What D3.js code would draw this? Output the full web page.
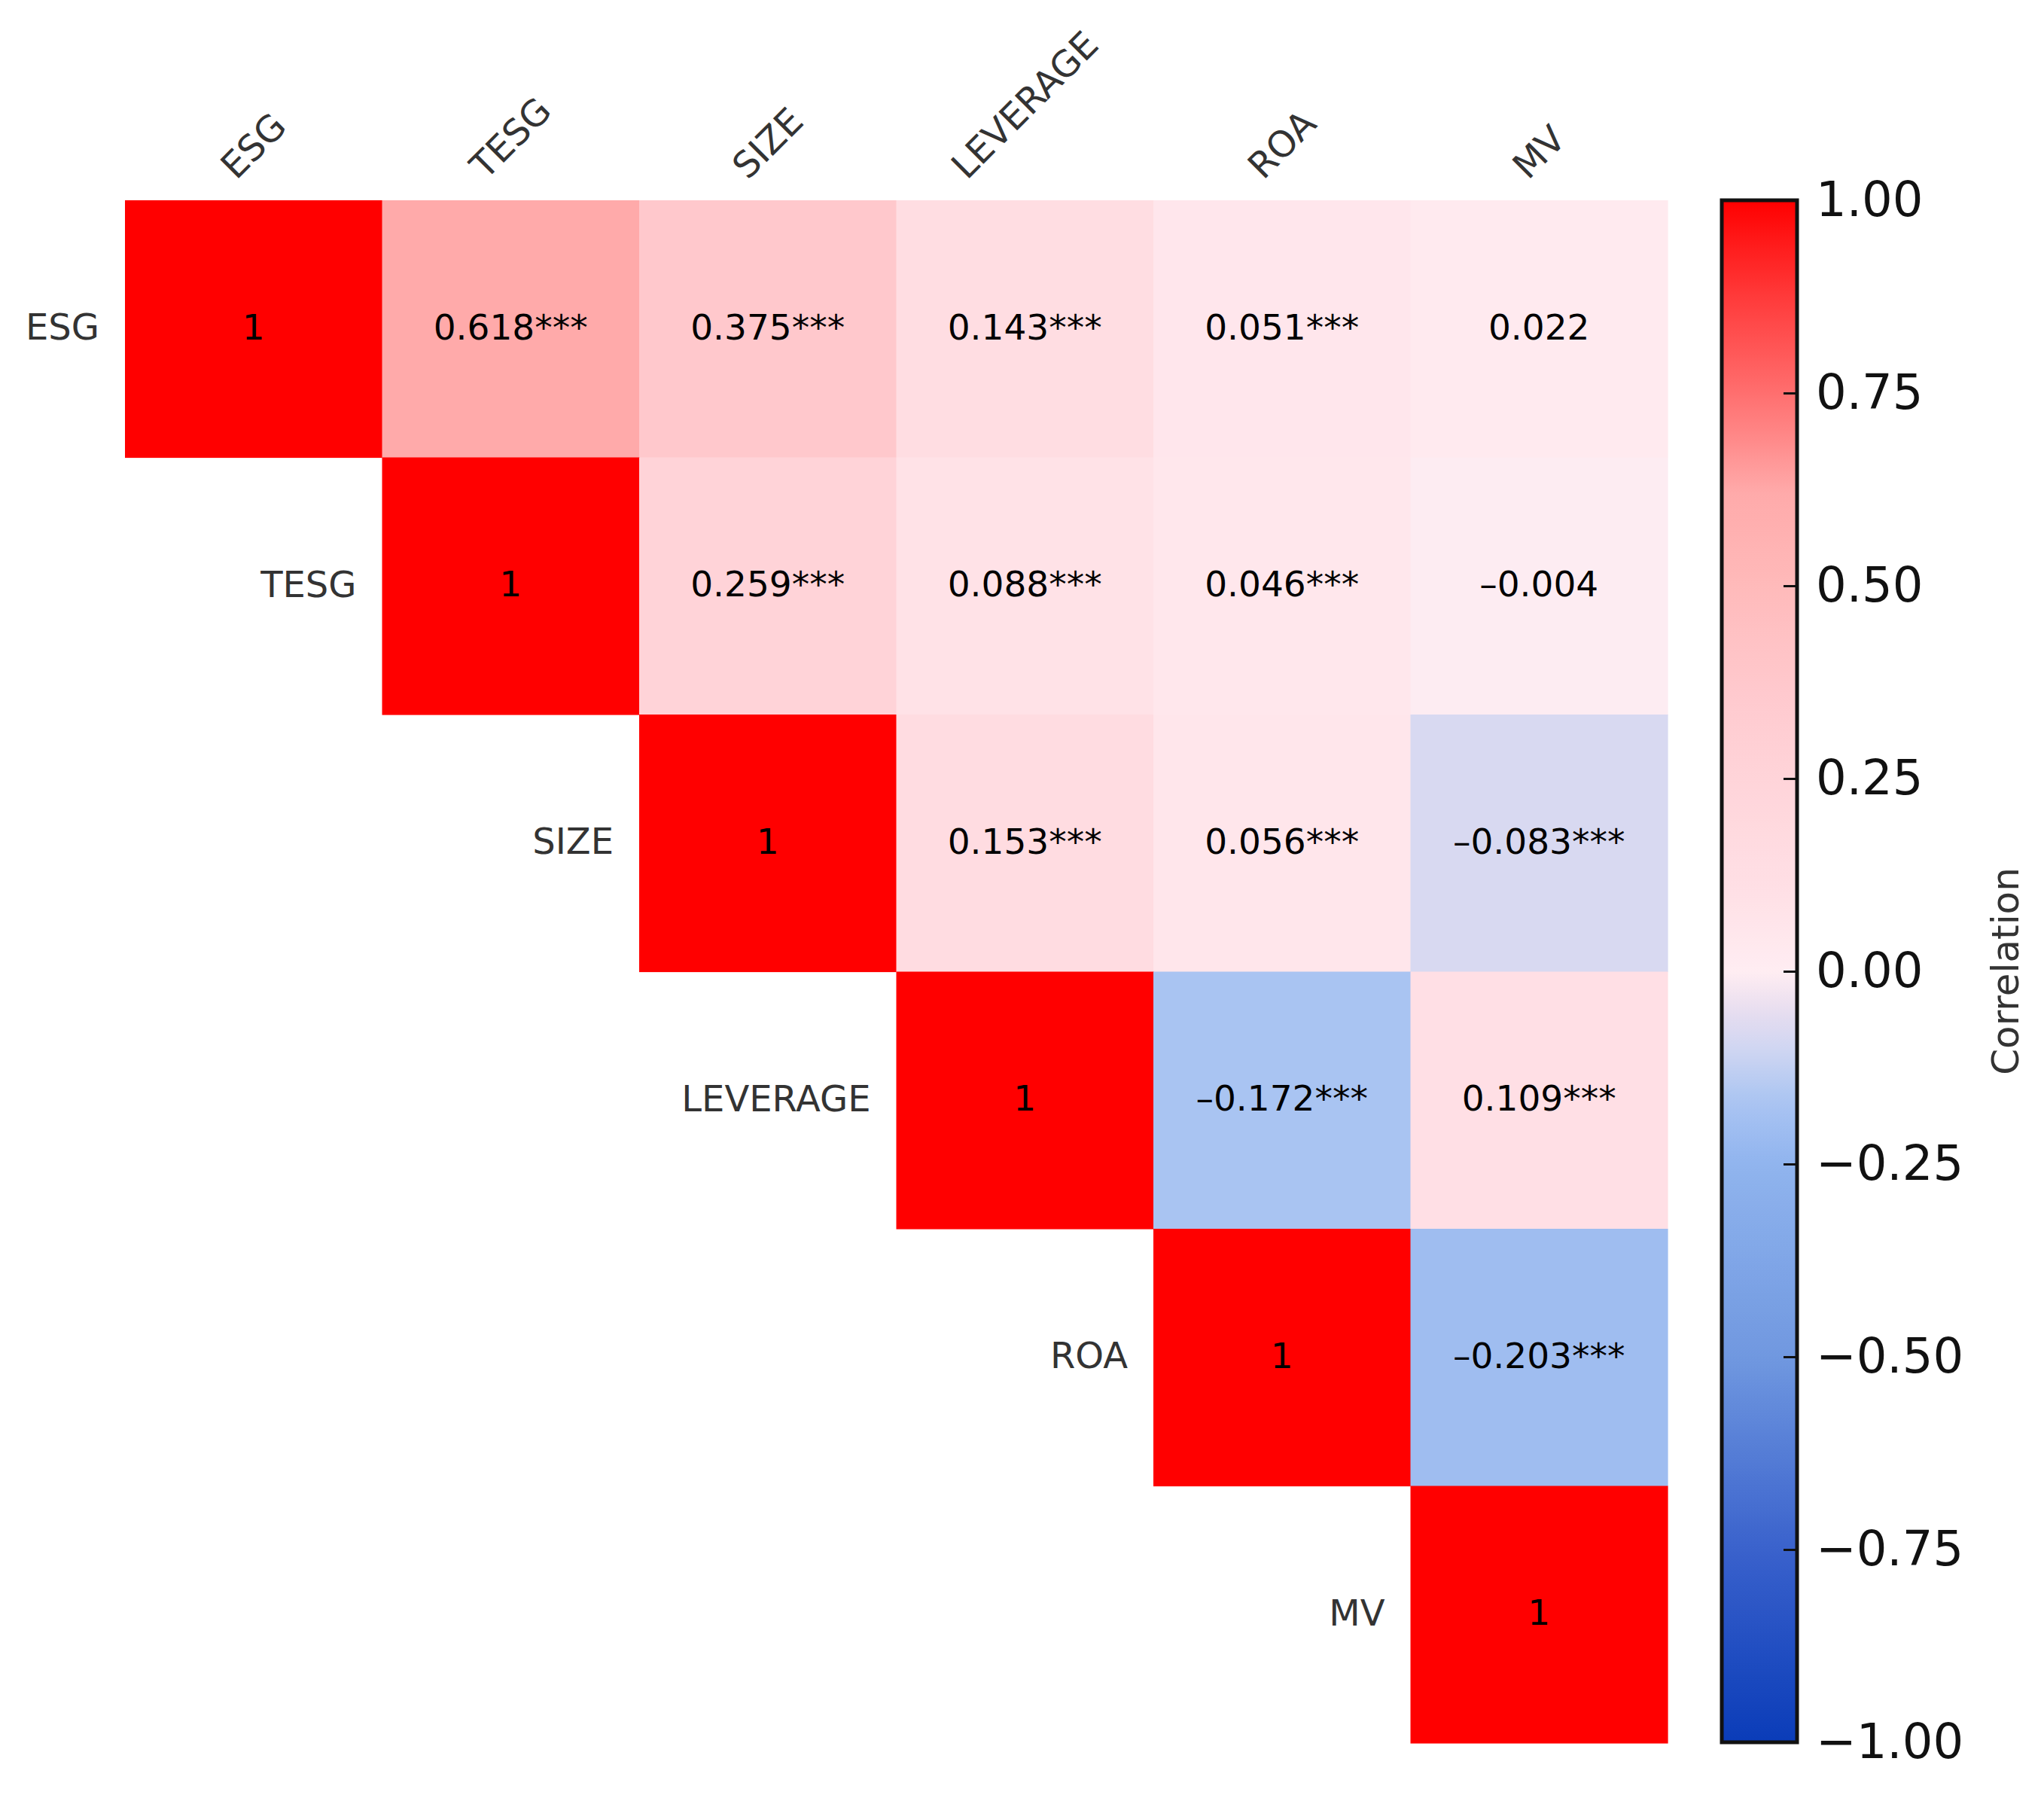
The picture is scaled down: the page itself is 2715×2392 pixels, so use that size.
<!DOCTYPE html>
<html>
<head>
<meta charset="utf-8">
<script src="https://cdn.jsdelivr.net/npm/d3@7"></script>
<style>
  body { margin: 0; background: #fff; }
  svg { display: block; font-family: "DejaVu Sans", sans-serif; }
</style>
</head>
<body>
<svg id="chart" width="2715" height="2392"></svg>
<script>
const variables = ['ESG', 'TESG', 'SIZE', 'LEVERAGE', 'ROA', 'MV'];

// upper triangle of the correlation matrix, row i starts at column i
const corrESG = [1, 0.618, 0.375, 0.143, 0.051, 0.022];
const corrTESG = [1, 0.259, 0.088, 0.046, -0.004];
const corrSIZE = [1, 0.153, 0.056, -0.083];
const corrLEVERAGE = [1, -0.172, 0.109];
const corrROA = [1, -0.203];
const corrMV = [1];

const starsESG = ['', '***', '***', '***', '***', ''];
const starsTESG = ['', '***', '***', '***', ''];
const starsSIZE = ['', '***', '***', '***'];
const starsLEVERAGE = ['', '***', '***'];
const starsROA = ['', '***'];
const starsMV = [''];

const colorbarTicks = [-1, -0.75, -0.5, -0.25, 0, 0.25, 0.5, 0.75, 1];

// colour map stops
const cmapValues = [-1, -0.75, -0.5, -0.25, -0.17, -0.1, -0.05, 0, 0.1, 0.25, 0.375, 0.5, 0.62, 0.75, 0.875, 1];
const cmapColors = ['#0a3cb8', '#3a62cc', '#7098e0', '#90b4ee', '#aac4f2', '#d0d6f2', '#e8def0', '#ffedf2',
                    '#ffe0e6', '#ffd4d9', '#ffc8cc', '#ffbaba', '#ffaaaa', '#ff6e6e', '#ff3a3a', '#ff0000'];

const corrRows = [corrESG, corrTESG, corrSIZE, corrLEVERAGE, corrROA, corrMV];
const starRows = [starsESG, starsTESG, starsSIZE, starsLEVERAGE, starsROA, starsMV];

let cells = [];
corrRows.forEach((row, i) => {
  row.forEach((v, k) => {
    cells.push({ row: variables[i], col: variables[i + k], value: v, stars: starRows[i][k] });
  });
});

const svg = d3.select('#chart');

const x = d3.scaleBand().domain(variables).range([166, 2215]);
const y = d3.scaleBand().domain(variables).range([266, 2315]);
const color = d3.scaleLinear().domain(cmapValues).range(cmapColors).clamp(true);

const fs = 48;

// cells
svg.append('g').selectAll('rect')
  .data(cells)
  .join('rect')
  .attr('x', d => x(d.col))
  .attr('y', d => y(d.row))
  .attr('width', x.bandwidth() + 0.6)
  .attr('height', y.bandwidth() + 0.6)
  .attr('fill', d => color(d.value));

// annotations
const fmt = d3.format('.3f');
svg.append('g').selectAll('text')
  .data(cells)
  .join('text')
  .attr('x', d => x(d.col) + x.bandwidth() / 2)
  .attr('y', d => y(d.row) + y.bandwidth() / 2)
  .attr('dy', '0.3em')
  .attr('text-anchor', 'middle')
  .attr('font-size', 47)
  .attr('fill', '#000')
  .text(d => d.value === 1 ? '1' : fmt(d.value).replace('\u2212', '\u2013') + d.stars);

// row labels sit left of the diagonal cell
svg.append('g').selectAll('text')
  .data(variables)
  .join('text')
  .attr('x', d => x(d) - 34)
  .attr('y', d => y(d) + y.bandwidth() / 2)
  .attr('dy', '0.3em')
  .attr('text-anchor', 'end')
  .attr('font-size', fs)
  .attr('fill', '#333')
  .text(d => d);

// column labels, rotated 45 degrees, bbox centred on the column
const gridTop = y.range()[0];
svg.append('g').selectAll('text')
  .data(variables)
  .join('text')
  .attr('text-anchor', 'middle')
  .attr('font-size', fs)
  .attr('fill', '#333')
  .text(d => d)
  .each(function(d) {
    let w = this.getComputedTextLength();
    let h = 1.164 * fs;
    let hRot = (w + h) / Math.SQRT2;
    let cx = x(d) + x.bandwidth() / 2;
    let cy = gridTop - 18 - hRot / 2;
    d3.select(this)
      .attr('x', cx)
      .attr('y', cy + 0.346 * fs)
      .attr('transform', `rotate(-45, ${cx}, ${cy})`);
  });

// colour bar
const cbX = 2287, cbW = 100;
const yc = d3.scaleLinear().domain([-1, 1]).range([2314, 266]);

const grad = svg.append('defs').append('linearGradient')
  .attr('id', 'cbar')
  .attr('x1', 0).attr('y1', 1).attr('x2', 0).attr('y2', 0);
grad.selectAll('stop')
  .data(d3.range(0, 1.0001, 0.01))
  .join('stop')
  .attr('offset', t => t)
  .attr('stop-color', t => color(-1 + 2 * t));

svg.append('rect')
  .attr('x', cbX)
  .attr('y', yc(1))
  .attr('width', cbW)
  .attr('height', yc(-1) - yc(1))
  .attr('fill', 'url(#cbar)');

const cbAxis = svg.append('g')
  .attr('transform', `translate(${cbX + cbW},0)`)
  .call(d3.axisRight(yc).tickValues(colorbarTicks).tickFormat(d3.format('.2f')).tickSizeInner(-18).tickSizeOuter(0).tickPadding(25));
cbAxis.select('.domain').remove();
cbAxis.selectAll('line').attr('stroke', '#111').attr('stroke-width', 3);
cbAxis.selectAll('text')
  .attr('font-family', '"DejaVu Sans", sans-serif')
  .attr('font-size', 64)
  .attr('fill', '#111');

svg.append('rect')
  .attr('x', cbX)
  .attr('y', yc(1))
  .attr('width', cbW)
  .attr('height', yc(-1) - yc(1))
  .attr('fill', 'none')
  .attr('stroke', '#111')
  .attr('stroke-width', 5);

svg.append('text')
  .attr('transform', `translate(2681, ${(yc(1) + yc(-1)) / 2}) rotate(-90)`)
  .attr('text-anchor', 'middle')
  .attr('font-size', 50)
  .attr('fill', '#333')
  .text('Correlation');
</script>
</body>
</html>
